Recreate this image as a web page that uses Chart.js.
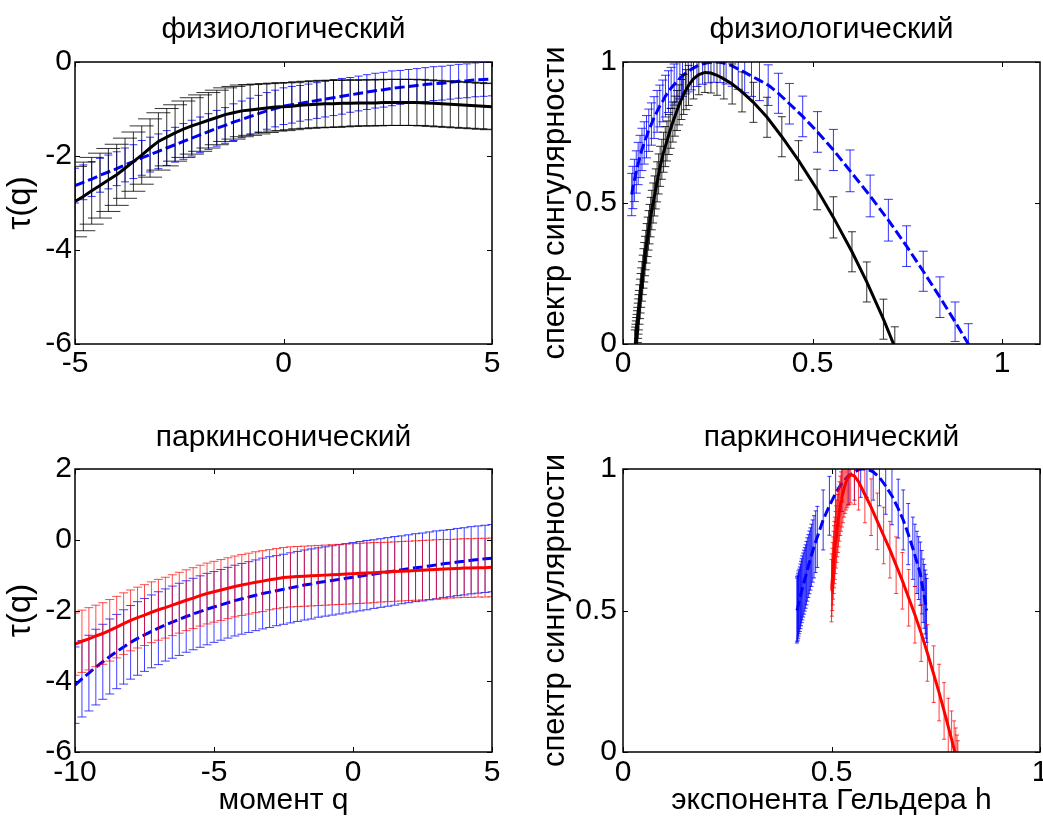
<!DOCTYPE html>
<html>
<head>
<meta charset="utf-8">
<script src="https://cdn.jsdelivr.net/npm/chart.js@4.4.0/dist/chart.umd.min.js"></script>
<style>
    body { margin: 0; background: #fff; }
    #figura { position: relative; width: 1043px; height: 816px; overflow: hidden; }
    canvas { position: absolute; }
</style>
</head>
<body>
<div id="figura">
    <canvas id="chart_tau_fis" width="520" height="408" style="left:0px;top:0px"></canvas>
    <canvas id="chart_spec_fis" width="523" height="408" style="left:520px;top:0px"></canvas>
    <canvas id="chart_tau_park" width="520" height="408" style="left:0px;top:408px"></canvas>
    <canvas id="chart_spec_park" width="523" height="408" style="left:520px;top:408px"></canvas>
</div>
<script>
// ---------- физиологический: tau(q), q = -5..5 ----------
const q_top = [-5, -4.8, -4.6, -4.4, -4.2, -4, -3.8, -3.6, -3.4, -3.2, -3, -2.8, -2.6, -2.4, -2.2, -2, -1.8, -1.6, -1.4, -1.2, -1,
    -0.8, -0.6, -0.4, -0.2, 0, 0.2, 0.4, 0.6, 0.8, 1, 1.2, 1.4, 1.6, 1.8, 2, 2.2, 2.4, 2.6, 2.8, 3, 3.2, 3.4, 3.6, 3.8, 4,
    4.2, 4.4, 4.6, 4.8, 5];
const tau_black_top = [-2.97, -2.86, -2.74, -2.63, -2.51, -2.40, -2.26, -2.12, -1.98, -1.83, -1.69, -1.60, -1.51, -1.43, -1.36, -1.30,
    -1.24, -1.18, -1.12, -1.08, -1.04, -1.02, -1.00, -0.98, -0.96, -0.95, -0.94, -0.92, -0.91, -0.90, -0.89, -0.89, -0.88,
    -0.88, -0.87, -0.87, -0.87, -0.86, -0.86, -0.86, -0.86, -0.86, -0.87, -0.88, -0.89, -0.90, -0.91, -0.92, -0.93, -0.94, -0.95];
const err_black_top = [0.75, 0.73, 0.71, 0.69, 0.67, 0.65, 0.64, 0.63, 0.62, 0.62, 0.61, 0.61, 0.60, 0.60, 0.60, 0.60,
    0.59, 0.58, 0.57, 0.56, 0.55, 0.54, 0.53, 0.52, 0.51, 0.51, 0.50, 0.50, 0.50, 0.50, 0.50, 0.50, 0.50, 0.49, 0.49, 0.49,
    0.49, 0.49, 0.49, 0.49, 0.49, 0.49, 0.49, 0.49, 0.49, 0.49, 0.49, 0.49, 0.49, 0.49, 0.49];
const tau_blue_top = [-2.63, -2.56, -2.49, -2.41, -2.34, -2.27, -2.19, -2.12, -2.04, -1.97, -1.90, -1.83, -1.76, -1.69, -1.62, -1.55,
    -1.48, -1.41, -1.35, -1.28, -1.22, -1.16, -1.10, -1.04, -0.99, -0.94, -0.91, -0.88, -0.85, -0.82, -0.79, -0.76, -0.73,
    -0.70, -0.67, -0.64, -0.61, -0.59, -0.56, -0.54, -0.52, -0.50, -0.48, -0.46, -0.45, -0.43, -0.41, -0.40, -0.38, -0.37, -0.36];
const err_blue_top = [0.37, 0.37, 0.37, 0.36, 0.36, 0.36, 0.36, 0.36, 0.37, 0.37, 0.37, 0.37, 0.37, 0.38, 0.38, 0.38,
    0.38, 0.38, 0.38, 0.39, 0.39, 0.39, 0.39, 0.39, 0.39, 0.39, 0.39, 0.38, 0.38, 0.38, 0.38, 0.38, 0.38, 0.37, 0.37, 0.37,
    0.37, 0.37, 0.37, 0.36, 0.36, 0.36, 0.36, 0.36, 0.36, 0.36, 0.36, 0.36, 0.36, 0.36, 0.36];

// ---------- физиологический: спектр ----------
const h_black_top = [0.031, 0.032, 0.033, 0.034, 0.035, 0.036, 0.037, 0.038, 0.039, 0.040,
    0.041, 0.042, 0.0435, 0.045, 0.0465, 0.048, 0.050, 0.052, 0.054, 0.056,
    0.058, 0.060, 0.0625, 0.065, 0.0675, 0.070, 0.073, 0.076, 0.0795, 0.083,
    0.0865, 0.090, 0.094, 0.098, 0.1025, 0.107, 0.1115, 0.116, 0.121, 0.126,
    0.1315, 0.137, 0.1425, 0.148, 0.154, 0.160, 0.1665, 0.173, 0.186, 0.200,
    0.216, 0.232, 0.248, 0.266, 0.288, 0.314, 0.344, 0.380, 0.419, 0.463,
    0.512, 0.555, 0.604, 0.643, 0.687, 0.717];
const f_black_top = [-0.02, -0.01, 0.00, 0.012, 0.024, 0.035, 0.048, 0.06, 0.075, 0.09,
    0.105, 0.12, 0.14, 0.16, 0.18, 0.20, 0.222, 0.245, 0.268, 0.29,
    0.312, 0.333, 0.357, 0.38, 0.403, 0.425, 0.45, 0.475, 0.50, 0.525,
    0.55, 0.575, 0.603, 0.63, 0.655, 0.68, 0.70, 0.72, 0.743, 0.765,
    0.787, 0.808, 0.828, 0.848, 0.867, 0.885, 0.902, 0.917, 0.940, 0.955,
    0.963, 0.961, 0.953, 0.940, 0.922, 0.894, 0.857, 0.804, 0.735, 0.651,
    0.548, 0.449, 0.327, 0.220, 0.088, -0.011];
const e_black_top = [0.070, 0.070, 0.070, 0.070, 0.070, 0.070, 0.070, 0.070, 0.070, 0.070,
    0.070, 0.070, 0.070, 0.070, 0.070, 0.070, 0.070, 0.070, 0.070, 0.070,
    0.070, 0.070, 0.070, 0.070, 0.070, 0.070, 0.070, 0.070, 0.071, 0.071,
    0.071, 0.071, 0.071, 0.071, 0.071, 0.071, 0.071, 0.071, 0.071, 0.071,
    0.071, 0.071, 0.071, 0.071, 0.071, 0.071, 0.071, 0.071, 0.071, 0.071,
    0.071, 0.071, 0.071, 0.071, 0.071, 0.071, 0.071, 0.071, 0.071, 0.070,
    0.072, 0.073, 0.071, 0.071, 0.071, 0.072];
const h_blue_top = [0.023, 0.026, 0.030, 0.035, 0.040, 0.045, 0.050, 0.056, 0.062, 0.068,
    0.075, 0.082, 0.090, 0.097, 0.105, 0.112, 0.120, 0.127, 0.135, 0.142,
    0.150, 0.157, 0.165, 0.172, 0.180, 0.195, 0.210, 0.225, 0.240, 0.256,
    0.272, 0.288, 0.304, 0.321, 0.339, 0.360, 0.383, 0.410, 0.439, 0.474,
    0.513, 0.555, 0.599, 0.652, 0.700, 0.748, 0.792, 0.836, 0.876, 0.911, 0.935];
const f_blue_top = [0.53, 0.555, 0.58, 0.61, 0.64, 0.665, 0.69, 0.713, 0.735, 0.758,
    0.78, 0.803, 0.825, 0.844, 0.862, 0.879, 0.895, 0.908, 0.920, 0.931,
    0.942, 0.951, 0.960, 0.967, 0.974, 0.985, 0.993, 0.998, 1.000, 0.999,
    0.994, 0.986, 0.975, 0.963, 0.950, 0.935, 0.918, 0.889, 0.852, 0.807,
    0.752, 0.688, 0.614, 0.525, 0.439, 0.347, 0.258, 0.166, 0.079, 0.0, -0.055];
const e_blue_top = [0.075, 0.075, 0.075, 0.075, 0.075, 0.075, 0.075, 0.075, 0.075, 0.075,
    0.075, 0.074, 0.074, 0.074, 0.074, 0.074, 0.074, 0.073, 0.073, 0.073,
    0.073, 0.073, 0.073, 0.073, 0.073, 0.072, 0.072, 0.072, 0.072, 0.072,
    0.072, 0.072, 0.072, 0.072, 0.072, 0.072, 0.072, 0.071, 0.072, 0.072,
    0.072, 0.073, 0.074, 0.074, 0.074, 0.072, 0.071, 0.072, 0.070, 0.072, 0.050];

// ---------- паркинсонический: tau(q), q = -10..5 ----------
const q_bottom = [-10, -9.75, -9.5, -9.25, -9, -8.75, -8.5, -8.25, -8, -7.75, -7.5, -7.25, -7, -6.75, -6.5, -6.25, -6, -5.75,
    -5.5, -5.25, -5, -4.75, -4.5, -4.25, -4, -3.75, -3.5, -3.25, -3, -2.75, -2.5, -2.25, -2, -1.75, -1.5, -1.25, -1, -0.75,
    -0.5, -0.25, 0, 0.25, 0.5, 0.75, 1, 1.25, 1.5, 1.75, 2, 2.25, 2.5, 2.75, 3, 3.25, 3.5, 3.75, 4, 4.25, 4.5, 4.75, 5];
const tau_red_bottom = [-2.95, -2.87, -2.80, -2.72, -2.65, -2.56, -2.47, -2.37, -2.28, -2.20, -2.13, -2.05, -1.98, -1.92, -1.85,
    -1.78, -1.71, -1.65, -1.58, -1.52, -1.47, -1.42, -1.37, -1.32, -1.28, -1.24, -1.20, -1.17, -1.13, -1.10, -1.07, -1.05,
    -1.04, -1.03, -1.02, -1.01, -1.00, -0.99, -0.98, -0.97, -0.96, -0.95, -0.94, -0.93, -0.92, -0.91, -0.90, -0.89, -0.88,
    -0.87, -0.86, -0.85, -0.84, -0.83, -0.82, -0.81, -0.80, -0.80, -0.79, -0.79, -0.78];
const err_red_bottom = [0.88, 0.88, 0.88, 0.87, 0.87, 0.87, 0.87, 0.87, 0.86, 0.86, 0.86, 0.86, 0.86, 0.86, 0.86, 0.86,
    0.86, 0.86, 0.86, 0.86, 0.86, 0.86, 0.86, 0.86, 0.86, 0.86, 0.86, 0.86, 0.85, 0.85, 0.85, 0.85, 0.85, 0.85, 0.85, 0.85,
    0.85, 0.85, 0.85, 0.85, 0.85, 0.85, 0.85, 0.85, 0.84, 0.84, 0.84, 0.84, 0.84, 0.84, 0.84, 0.84, 0.84, 0.84, 0.83, 0.83,
    0.83, 0.83, 0.83, 0.83, 0.83];
const tau_blue_bottom = [-4.11, -3.93, -3.77, -3.60, -3.45, -3.30, -3.16, -3.03, -2.90, -2.79, -2.69, -2.59, -2.50, -2.41, -2.33,
    -2.25, -2.17, -2.10, -2.03, -1.96, -1.90, -1.84, -1.78, -1.72, -1.67, -1.62, -1.57, -1.52, -1.48, -1.44, -1.40, -1.36,
    -1.32, -1.28, -1.25, -1.21, -1.18, -1.15, -1.12, -1.09, -1.06, -1.03, -1.00, -0.97, -0.94, -0.91, -0.88, -0.85, -0.82,
    -0.79, -0.77, -0.74, -0.71, -0.68, -0.66, -0.63, -0.61, -0.58, -0.56, -0.54, -0.52];
const err_blue_bottom = [1.08, 1.08, 1.07, 1.07, 1.06, 1.06, 1.05, 1.05, 1.04, 1.04, 1.03, 1.03, 1.03, 1.02, 1.02, 1.02,
    1.01, 1.01, 1.01, 1.01, 1.00, 1.00, 1.00, 1.00, 1.00, 1.00, 1.00, 1.00, 1.00, 0.99, 0.99, 0.99, 0.99, 0.99, 0.99, 0.98,
    0.98, 0.98, 0.98, 0.98, 0.98, 0.98, 0.98, 0.97, 0.97, 0.97, 0.97, 0.96, 0.96, 0.96, 0.96, 0.96, 0.96, 0.95, 0.95, 0.95,
    0.95, 0.95, 0.95, 0.95, 0.95];

// ---------- паркинсонический: спектр ----------
const h_blue_bottom = [0.417, 0.418, 0.419, 0.420, 0.421, 0.4225, 0.424, 0.4255, 0.427, 0.4285,
    0.430, 0.432, 0.434, 0.436, 0.438, 0.440, 0.442, 0.4445, 0.447, 0.4495,
    0.452, 0.455, 0.458, 0.462, 0.466, 0.480, 0.495, 0.510, 0.525, 0.540,
    0.555, 0.570, 0.585, 0.600, 0.615, 0.630, 0.645, 0.660, 0.672, 0.684,
    0.695, 0.700, 0.705, 0.709, 0.713, 0.7165, 0.720, 0.7225, 0.725, 0.7265, 0.728];
const f_blue_bottom = [0.50, 0.505, 0.51, 0.517, 0.525, 0.532, 0.54, 0.55, 0.56, 0.57,
    0.58, 0.59, 0.60, 0.61, 0.62, 0.632, 0.645, 0.657, 0.67, 0.682,
    0.695, 0.71, 0.725, 0.743, 0.76, 0.82, 0.87, 0.915, 0.95, 0.975,
    0.99, 1.0, 1.0, 0.99, 0.97, 0.94, 0.905, 0.86, 0.82, 0.77,
    0.72, 0.695, 0.67, 0.65, 0.63, 0.60, 0.57, 0.55, 0.53, 0.515, 0.50];
const e_blue_bottom = [0.115, 0.115, 0.115, 0.115, 0.115, 0.114, 0.114, 0.114, 0.114, 0.113,
    0.113, 0.113, 0.113, 0.112, 0.112, 0.112, 0.112, 0.111, 0.111, 0.110,
    0.110, 0.110, 0.110, 0.109, 0.108, 0.106, 0.104, 0.102, 0.100, 0.100,
    0.100, 0.100, 0.100, 0.100, 0.100, 0.100, 0.102, 0.104, 0.106, 0.108,
    0.110, 0.110, 0.110, 0.111, 0.112, 0.112, 0.112, 0.113, 0.113, 0.113, 0.113];
const h_red_bottom = [0.500, 0.501, 0.502, 0.503, 0.504, 0.505, 0.506, 0.507, 0.508, 0.5095,
    0.511, 0.5125, 0.514, 0.5155, 0.517, 0.519, 0.521, 0.523, 0.525, 0.5275,
    0.530, 0.5325, 0.535, 0.5375, 0.540, 0.543, 0.546, 0.555, 0.565, 0.580,
    0.595, 0.610, 0.625, 0.640, 0.655, 0.670, 0.685, 0.700, 0.715, 0.730,
    0.745, 0.758, 0.770, 0.780, 0.788, 0.794, 0.798, 0.801, 0.803];
const f_red_bottom = [0.57, 0.59, 0.61, 0.63, 0.65, 0.67, 0.69, 0.705, 0.72, 0.74,
    0.76, 0.78, 0.80, 0.815, 0.83, 0.85, 0.87, 0.885, 0.90, 0.915,
    0.93, 0.943, 0.955, 0.963, 0.97, 0.975, 0.98, 0.975, 0.955, 0.91,
    0.865, 0.815, 0.765, 0.715, 0.66, 0.605, 0.545, 0.485, 0.42, 0.35,
    0.275, 0.21, 0.145, 0.09, 0.045, 0.01, -0.015, -0.04, -0.06];
const e_red_bottom = [0.11, 0.11, 0.11, 0.11, 0.11, 0.11, 0.11, 0.11, 0.11, 0.11,
    0.11, 0.11, 0.11, 0.11, 0.105, 0.105, 0.105, 0.105, 0.105, 0.105,
    0.10, 0.10, 0.10, 0.10, 0.10, 0.10, 0.10, 0.10, 0.10, 0.10,
    0.10, 0.10, 0.10, 0.10, 0.10, 0.10, 0.10, 0.10, 0.10, 0.10,
    0.10, 0.10, 0.10, 0.10, 0.10, 0.10, 0.10, 0.10, 0.10];

// tick labels
const ticks_q_top = [-5, 0, 5];
const ticks_tau_top = [-6, -4, -2, 0];
const ticks_q_bottom = [-10, -5, 0, 5];
const ticks_tau_bottom = [-6, -4, -2, 0, 2];
const ticks_h_top = [0, 0.5, 1];
const ticks_h_bottom = [0, 0.5, 1];
const ticks_f = [0, 0.5, 1];

Chart.defaults.font.family = 'Liberation Sans, Arial, sans-serif';
Chart.defaults.color = '#000';

// vertical error bars with caps, drawn right before each dataset's line
const errorbar_plugin = {
    id: 'errorbars',
    beforeDatasetDraw(chart, args) {
        const ds = chart.data.datasets[args.index];
        if (!ds.errors) return;
        const area = chart.chartArea;
        const sx = chart.scales.x;
        const sy = chart.scales.y;
        const ctx = chart.ctx;
        const c = ds.cap / 2;
        ctx.save();
        ctx.beginPath();
        ctx.rect(area.left, area.top, area.right - area.left, area.bottom - area.top);
        ctx.clip();
        ctx.strokeStyle = ds.barColor;
        ctx.lineWidth = 1;
        ctx.beginPath();
        for (let i = 0; i < ds.data.length; i++) {
            const px = sx.getPixelForValue(ds.data[i].x);
            const y1 = sy.getPixelForValue(ds.data[i].y - ds.errors[i]);
            const y2 = sy.getPixelForValue(ds.data[i].y + ds.errors[i]);
            ctx.moveTo(px, y1);
            ctx.lineTo(px, y2);
            ctx.moveTo(px - c, y1);
            ctx.lineTo(px + c, y1);
            ctx.moveTo(px - c, y2);
            ctx.lineTo(px + c, y2);
        }
        ctx.stroke();
        ctx.restore();
    }
};

// box around the axes plus inward tick marks on all four sides
const frame_plugin = {
    id: 'frame',
    afterDraw(chart) {
        const a = chart.chartArea;
        const sx = chart.scales.x;
        const sy = chart.scales.y;
        const ctx = chart.ctx;
        ctx.save();
        ctx.strokeStyle = '#000';
        ctx.lineWidth = 1;
        ctx.beginPath();
        sx.ticks.forEach(t => {
            const px = Math.round(sx.getPixelForValue(t.value)) + 0.5;
            ctx.moveTo(px, a.bottom);
            ctx.lineTo(px, a.bottom - 5);
            ctx.moveTo(px, a.top);
            ctx.lineTo(px, a.top + 5);
        });
        sy.ticks.forEach(t => {
            const py = Math.round(sy.getPixelForValue(t.value)) + 0.5;
            ctx.moveTo(a.left, py);
            ctx.lineTo(a.left + 5, py);
            ctx.moveTo(a.right, py);
            ctx.lineTo(a.right - 5, py);
        });
        ctx.stroke();
        ctx.lineWidth = 1.5;
        ctx.strokeRect(a.left, a.top, a.right - a.left, a.bottom - a.top);
        ctx.restore();
    }
};

function serie(xs, ys, errs, cor, corBarra, cap, tracejado, ordem) {
    return {
        data: xs.map((v, i) => ({ x: v, y: ys[i] })),
        errors: errs,
        barColor: corBarra,
        cap: cap,
        showLine: true,
        pointRadius: 0,
        borderColor: cor,
        borderWidth: 3,
        borderDash: tracejado ? [10, 4] : [],
        tension: 0,
        fill: false,
        order: ordem
    };
}

function criarGrafico(id, cfg) {
    new Chart(document.getElementById(id), {
        type: 'scatter',
        data: { datasets: cfg.datasets },
        options: {
            responsive: false,
            animation: false,
            devicePixelRatio: 1,
            layout: { padding: { left: 0, right: cfg.padRight, top: 0, bottom: 0 } },
            plugins: {
                legend: { display: false },
                tooltip: { enabled: false },
                title: {
                    display: true,
                    text: cfg.title,
                    fullSize: false,
                    color: '#000',
                    font: { size: 30, weight: 'normal', lineHeight: 1.2 },
                    padding: { top: 12, bottom: cfg.titleBottom }
                }
            },
            scales: {
                x: {
                    type: 'linear',
                    min: cfg.xMin,
                    max: cfg.xMax,
                    grid: { display: false, drawTicks: false },
                    border: { display: false },
                    afterBuildTicks: s => { s.ticks = cfg.xTicks.map(v => ({ value: v })); },
                    afterFit: s => { s.height = 64; s.paddingLeft = 0; s.paddingRight = 0; },
                    ticks: {
                        autoSkip: false,
                        maxRotation: 0,
                        padding: cfg.xTickPad,
                        font: { size: 30, lineHeight: 1.2 },
                        callback: v => String(v)
                    },
                    title: {
                        display: !!cfg.xTitle,
                        text: cfg.xTitle || '',
                        font: { size: 30, lineHeight: 1 },
                        padding: 0
                    }
                },
                y: {
                    type: 'linear',
                    min: cfg.yMin,
                    max: cfg.yMax,
                    grid: { display: false, drawTicks: false },
                    border: { display: false },
                    afterBuildTicks: s => { s.ticks = cfg.yTicks.map(v => ({ value: v })); },
                    afterFit: s => { s.width = cfg.yWidth; s.paddingTop = 0; s.paddingBottom = 0; },
                    ticks: {
                        autoSkip: false,
                        padding: cfg.yTickPad,
                        font: { size: 30, lineHeight: 1.2 },
                        callback: v => String(v)
                    },
                    title: {
                        display: true,
                        text: cfg.yTitle,
                        font: { size: cfg.yTitleSize, lineHeight: 1.2 },
                        padding: { top: cfg.yTitlePad, bottom: 0 }
                    }
                }
            }
        },
        plugins: [errorbar_plugin, frame_plugin]
    });
}

criarGrafico('chart_tau_fis', {
    title: 'физиологический',
    titleBottom: 14,
    padRight: 28,
    xMin: -5, xMax: 5, xTicks: ticks_q_top, xTickPad: 2,
    yMin: -6, yMax: 0, yTicks: ticks_tau_top, yTickPad: 3,
    yWidth: 75, yTitle: 'τ(q)', yTitleSize: 33, yTitlePad: 1,
    datasets: [
        serie(q_top, tau_blue_top, err_blue_top, '#0000ff', 'rgba(0,0,255,0.8)', 8, true, 1),
        serie(q_top, tau_black_top, err_black_top, '#000000', 'rgba(0,0,0,0.8)', 24, false, 0)
    ]
});

criarGrafico('chart_spec_fis', {
    title: 'физиологический',
    titleBottom: 14,
    padRight: 3,
    xMin: 0, xMax: 1.1, xTicks: ticks_h_top, xTickPad: 2,
    yMin: 0, yMax: 1, yTicks: ticks_f, yTickPad: 6,
    yWidth: 103, yTitle: 'спектр сингулярности', yTitleSize: 31, yTitlePad: 17,
    datasets: [
        serie(h_blue_top, f_blue_top, e_blue_top, '#0000ff', 'rgba(0,0,255,0.8)', 9, true, 1),
        serie(h_black_top, f_black_top, e_black_top, '#000000', 'rgba(0,0,0,0.8)', 8, false, 0)
    ]
});

criarGrafico('chart_tau_park', {
    title: 'паркинсонический',
    titleBottom: 13,
    padRight: 28,
    xMin: -10, xMax: 5, xTicks: ticks_q_bottom, xTickPad: 3,
    yMin: -6, yMax: 2, yTicks: ticks_tau_bottom, yTickPad: 3,
    yWidth: 75, yTitle: 'τ(q)', yTitleSize: 33, yTitlePad: 1,
    xTitle: 'момент q',
    datasets: [
        serie(q_bottom, tau_blue_bottom, err_blue_bottom, '#0000ff', 'rgba(0,0,255,0.75)', 9, true, 1),
        serie(q_bottom, tau_red_bottom, err_red_bottom, '#ff0000', 'rgba(255,0,0,0.7)', 9, false, 0)
    ]
});

criarGrafico('chart_spec_park', {
    title: 'паркинсонический',
    titleBottom: 13,
    padRight: 3,
    xMin: 0, xMax: 1, xTicks: ticks_h_bottom, xTickPad: 3,
    yMin: 0, yMax: 1, yTicks: ticks_f, yTickPad: 6,
    yWidth: 103, yTitle: 'спектр сингулярности', yTitleSize: 31, yTitlePad: 17,
    xTitle: 'экспонента Гельдера h',
    datasets: [
        serie(h_blue_bottom, f_blue_bottom, e_blue_bottom, '#0000ff', 'rgba(0,0,255,0.8)', 4, true, 1),
        serie(h_red_bottom, f_red_bottom, e_red_bottom, '#ff0000', 'rgba(255,0,0,0.75)', 4, false, 0)
    ]
});
</script>
</body>
</html>
